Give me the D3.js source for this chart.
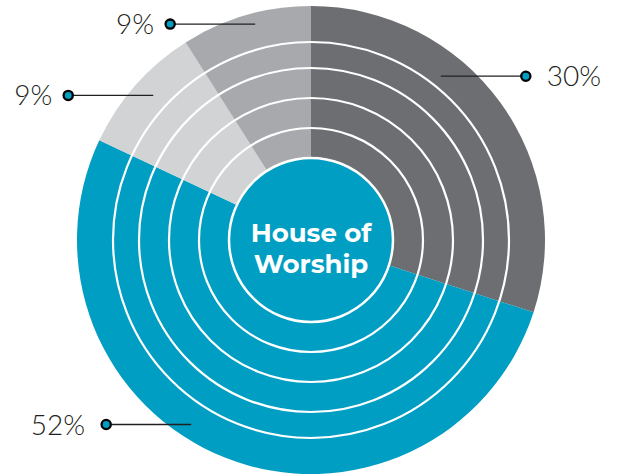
<!DOCTYPE html>
<html>
<head>
<meta charset="utf-8">
<script src="https://cdn.jsdelivr.net/npm/d3@7"></script>
<style>
  body { margin: 0; background: #fff; }
  svg { display: block; }
</style>
</head>
<body>
<div id="chart"></div>
<script>
// chart values
const categories = ["A", "B", "C", "D"];
const shares = [30, 52, 9, 9];
const labels = ["30%", "52%", "9%", "9%"];
const colors = ["#6d6e71", "#009ec2", "#d1d3d4", "#a7a9ac"];
const centerLines = ["House of", "Worship"];

// where each leader line starts (angle in degrees from 12 o'clock, radius)
const leaderAngles = [38.4, 213, 312.5, 345.5];
const leaderRadii = [209, 220, 214, 223];
const leaderSide = [1, -1, -1, -1];

const drawChart = () => {
  const width = 621;
  const height = 475;
  const cx = 311;
  const cy = 240;
  const outerR = 234;
  const innerR = 82;
  const ringRadii = [112, 142, 172, 198];

  const svg = d3
    .select("#chart")
    .append("svg")
    .attr("width", width)
    .attr("height", height);

  const g = svg.append("g").attr("transform", `translate(${cx},${cy})`);

  const pie = d3.pie().sort(null).value((d) => d.value);
  const arc = d3.arc().innerRadius(0).outerRadius(outerR);

  const data = categories.map((c, i) => ({ key: c, value: shares[i], color: colors[i] }));

  g.selectAll("path.slice")
    .data(pie(data))
    .enter()
    .append("path")
    .attr("class", "slice")
    .attr("d", arc)
    .attr("fill", (d) => d.data.color);

  // white rings
  g.selectAll("circle.ring")
    .data(ringRadii)
    .enter()
    .append("circle")
    .attr("class", "ring")
    .attr("r", (d) => d)
    .attr("fill", "none")
    .attr("stroke", "#fff")
    .attr("stroke-width", 2.2);

  // center disc
  g.append("circle")
    .attr("r", innerR)
    .attr("fill", colors[1])
    .attr("stroke", "#fff")
    .attr("stroke-width", 2.5);

  g.selectAll("text.center")
    .data(centerLines)
    .enter()
    .append("text")
    .attr("class", "center")
    .attr("text-anchor", "middle")
    .attr("y", (d, i) => 2 + i * 31)
    .attr("fill", "#fff")
    .style("font-family", "Montserrat, 'Open Sans', Lato, sans-serif")
    .style("font-weight", 700)
    .style("font-size", "26px")
    .text((d) => d);

  // leader lines with dots and labels
  const lineLen = 85;
  const rad = Math.PI / 180;

  labels.forEach((lab, i) => {
    const a = leaderAngles[i] * rad;
    const x0 = cx + leaderRadii[i] * Math.sin(a);
    const y0 = cy - leaderRadii[i] * Math.cos(a);
    const x1 = x0 + leaderSide[i] * lineLen;

    svg.append("line")
      .attr("x1", x0)
      .attr("y1", y0)
      .attr("x2", x1)
      .attr("y2", y0)
      .attr("stroke", "#231f20")
      .attr("stroke-width", 1.3);

    svg.append("circle")
      .attr("cx", x1)
      .attr("cy", y0)
      .attr("r", 4.6)
      .attr("fill", colors[1])
      .attr("stroke", "#000")
      .attr("stroke-width", 2.3);

    svg.append("text")
      .attr("x", x1 + leaderSide[i] * (lab.length > 2 ? 21 : 16))
      .attr("y", y0 + 10)
      .attr("text-anchor", leaderSide[i] > 0 ? "start" : "end")
      .attr("fill", "#231f20")
      .style("font-family", "Lato, 'Open Sans', sans-serif")
      .style("font-weight", 300)
      .style("font-size", "28px")
      .text(lab);
  });
};

drawChart();
</script>
</body>
</html>
